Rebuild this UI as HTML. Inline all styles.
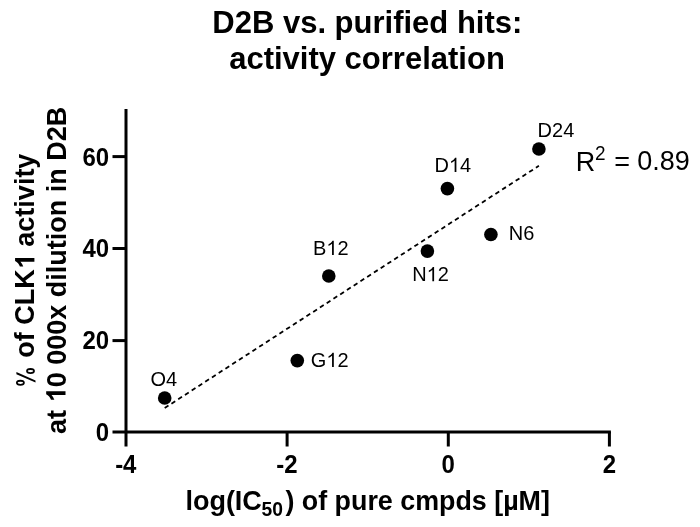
<!DOCTYPE html>
<html>
<head>
<meta charset="utf-8">
<style>
html,body{margin:0;padding:0;background:#fff;}
body{width:700px;height:527px;overflow:hidden;}
svg{display:block;filter:grayscale(1);}
text{font-family:"Liberation Sans", sans-serif;fill:#000;}
.b{font-weight:bold;}
.h{fill:none;}
</style>
</head>
<body>
<svg width="700" height="527" viewBox="0 0 700 527">
<rect x="0" y="0" width="700" height="527" fill="#fff"/>
<text class="b" x="367.3" y="33" font-size="31" text-anchor="middle">D2B vs. purified hits:</text>
<text class="b" x="367" y="69" font-size="31" text-anchor="middle">activity correlation</text>
<text class="b" font-size="27" text-anchor="middle" transform="translate(34.4 271.4) rotate(-90)"><tspan class="h">%</tspan> of CLK<tspan class="h">1</tspan> activity</text>
<path fill-rule="evenodd" transform="translate(34.4 271.4) rotate(-90) translate(-117.78 0) scale(1 -1)" d="M3.4000000000000004 14.0a3.0 4.4 0 1 0 6.0 0a3.0 4.4 0 1 0 -6.0 0ZM5.300000000000001 14.0a1.1 2.75 0 1 0 2.2 0a1.1 2.75 0 1 0 -2.2 0ZM15.100000000000001 3.9a3.0 4.4 0 1 0 6.0 0a3.0 4.4 0 1 0 -6.0 0ZM17.0 3.9a1.1 2.75 0 1 0 2.2 0a1.1 2.75 0 1 0 -2.2 0ZM14.9 18L17.1 18L8.8 -1.1L6.6 -1.1Z"/>
<text class="b" font-size="27" text-anchor="middle" transform="translate(65.5 270.35) rotate(-90)">at <tspan class="h">1</tspan>0 000x dilution in D2B</text>
<path transform="translate(34.4 271.4) rotate(-90) translate(2.19 0.00) scale(0.01318 -0.01318)" d="M847 0L566 0L566 1059Q412 915 199 846L199 1101Q311 1138 443 1240Q575 1343 624 1466L847 1466Z"/>
<path transform="translate(65.5 270.35) rotate(-90) translate(-132.05 0.00) scale(0.01318 -0.01318)" d="M847 0L566 0L566 1059Q412 915 199 846L199 1101Q311 1138 443 1240Q575 1343 624 1466L847 1466Z"/>
<g stroke="#000" stroke-width="3" fill="none" stroke-linecap="butt">
  <line x1="126" y1="109" x2="126" y2="446.5"/>
  <line x1="112.5" y1="432" x2="610.9" y2="432"/>
  <line x1="112.5" y1="340.6" x2="126" y2="340.6"/>
  <line x1="112.5" y1="248.5" x2="126" y2="248.5"/>
  <line x1="112.5" y1="156.6" x2="126" y2="156.6"/>
  <line x1="287.1" y1="432" x2="287.1" y2="446.5"/>
  <line x1="448.3" y1="432" x2="448.3" y2="446.5"/>
  <line x1="609.4" y1="432" x2="609.4" y2="446.5"/>
</g>
<text class="b" font-size="24" text-anchor="end" transform="translate(109.2 440.8) scale(1 1.0405)">0</text>
<text class="b" font-size="24" text-anchor="end" transform="translate(109.2 349.2) scale(1 1.0405)">20</text>
<text class="b" font-size="24" text-anchor="end" transform="translate(109.2 257.4) scale(1 1.0405)">40</text>
<text class="b" font-size="24" text-anchor="end" transform="translate(109.2 165.5) scale(1 1.0405)">60</text>
<text class="b" font-size="24" text-anchor="middle" transform="translate(125.8 472.6) scale(1 1.0405)">-4</text>
<text class="b" font-size="24" text-anchor="middle" transform="translate(286.9 472.6) scale(1 1.0405)">-2</text>
<text class="b" font-size="24" text-anchor="middle" transform="translate(448.3 472.6) scale(1 1.0405)">0</text>
<text class="b" font-size="24" text-anchor="middle" transform="translate(609.4 472.6) scale(1 1.0405)">2</text>
<text class="b" x="185.4" y="510.4" font-size="27">log(IC</text>
<text class="b" font-size="19.3" transform="translate(261.6 515.6) scale(1 1.0405)">50</text>
<text class="b" x="285.4" y="510.4" font-size="26.85">) of pure cmpds [µM]</text>
<line x1="164.7" y1="408" x2="538.9" y2="165.8" stroke="#000" stroke-width="1.8" stroke-dasharray="4.5 3.54"/>
<g fill="#000">
  <circle cx="164.7" cy="398" r="6.8"/>
  <circle cx="297.3" cy="360.6" r="6.8"/>
  <circle cx="328.8" cy="276" r="6.8"/>
  <circle cx="427.4" cy="251.1" r="6.8"/>
  <circle cx="447.4" cy="188.6" r="6.8"/>
  <circle cx="490.9" cy="234.5" r="6.8"/>
  <circle cx="538.9" cy="149" r="6.8"/>
</g>
<text font-size="20" transform="translate(150.4 386) scale(1 1.0405)">O4</text>
<text font-size="20" transform="translate(310.8 367) scale(1 1.0405)">G<tspan class="h">1</tspan>2</text>
<path transform="translate(326.36 367.00) scale(0.00977 -0.00977)" d="M763 0L583 0L583 1147Q518 1085 412.5 1023Q307 961 223 930L223 1104Q374 1175 472.5 1262.5Q571 1350 627 1466L763 1466Z"/>
<text font-size="20" transform="translate(313 255) scale(1 1.0405)">B<tspan class="h">1</tspan>2</text>
<path transform="translate(326.34 255.00) scale(0.00977 -0.00977)" d="M763 0L583 0L583 1147Q518 1085 412.5 1023Q307 961 223 930L223 1104Q374 1175 472.5 1262.5Q571 1350 627 1466L763 1466Z"/>
<text font-size="20" transform="translate(434.5 172) scale(1 1.0405)">D<tspan class="h">1</tspan>4</text>
<path transform="translate(448.94 172.00) scale(0.00977 -0.00977)" d="M763 0L583 0L583 1147Q518 1085 412.5 1023Q307 961 223 930L223 1104Q374 1175 472.5 1262.5Q571 1350 627 1466L763 1466Z"/>
<text font-size="20" transform="translate(412.2 281.3) scale(1 1.0405)">N<tspan class="h">1</tspan>2</text>
<path transform="translate(426.64 281.30) scale(0.00977 -0.00977)" d="M763 0L583 0L583 1147Q518 1085 412.5 1023Q307 961 223 930L223 1104Q374 1175 472.5 1262.5Q571 1350 627 1466L763 1466Z"/>
<text font-size="20" transform="translate(508.8 240) scale(1 1.0405)">N6</text>
<text font-size="20" transform="translate(537.6 137.3) scale(1 1.0405)">D24</text>
<text font-size="27" transform="translate(575.8 170.5) scale(1 1.0405)">R</text>
<text font-size="19" transform="translate(595 159.7) scale(1 1.0405)">2</text>
<text font-size="27" transform="translate(614.2 170.5) scale(1 1.0000)">=</text>
<text font-size="27" transform="translate(637.2 170.3) scale(1 1.0405)">0.89</text>
</svg>
</body>
</html>
